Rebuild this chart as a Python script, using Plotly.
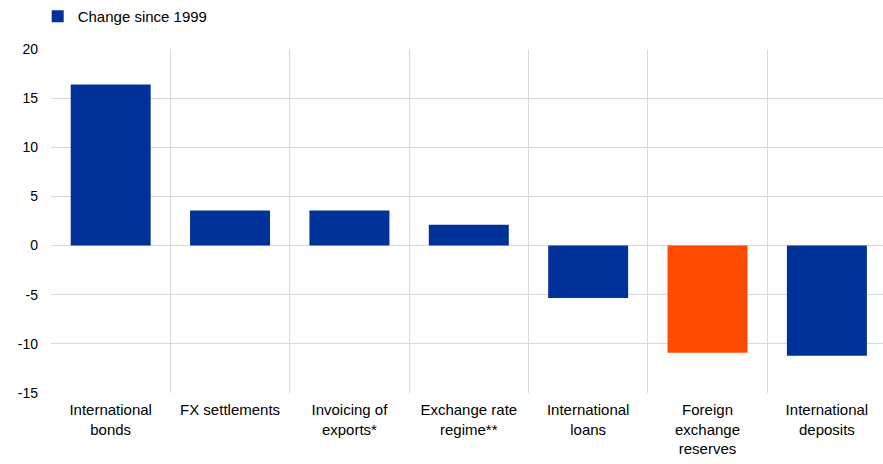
import plotly.graph_objects as go

categories = ["International<br>bonds", "FX settlements", "Invoicing of<br>exports*",
              "Exchange rate<br>regime**", "International<br>loans",
              "Foreign<br>exchange<br>reserves", "International<br>deposits"]
values = [16.4, 3.57, 3.57, 2.12, -5.33, -10.9, -11.2]
bar_colors = ["#003299", "#003299", "#003299", "#003299", "#003299", "#FF4B00", "#003299"]
series_name = "Change since 1999"
y_ticks = [-15, -10, -5, 0, 5, 10, 15, 20]
y_tick_labels = ["-15", "-10", "-5", "0", "5", "10", "15", "20"]

fig = go.Figure()
fig.add_trace(go.Bar(
    x=categories, y=values, name=series_name,
    marker=dict(color=bar_colors, line=dict(width=0)),
    showlegend=True,
))

font_family = "Arial, Liberation Sans, sans-serif"
fig.update_layout(
    width=883, height=464,
    margin=dict(l=51, r=0, t=48, b=71),
    paper_bgcolor="white", plot_bgcolor="white",
    bargap=0.33,
    font=dict(family=font_family, size=15, color="#000000"),
    showlegend=True,
    legend=dict(x=-0.016, y=1.144, xanchor="left", yanchor="top",
                orientation="h", font=dict(size=15),
                bgcolor="rgba(0,0,0,0)", borderwidth=0),
    xaxis=dict(
        type="category", tickson="boundaries", showgrid=True,
        gridcolor="#d9d9d9", gridwidth=1, ticks="", showline=False,
        range=[-0.5, 6.47], tickfont=dict(size=15), ticklabelstandoff=6,
        zeroline=False,
    ),
    yaxis=dict(
        range=[-15, 20], tickvals=y_ticks, ticktext=y_tick_labels, showgrid=True,
        gridcolor="#d9d9d9", gridwidth=1, zeroline=True,
        zerolinecolor="#d9d9d9", zerolinewidth=1, ticks="",
        tickfont=dict(size=14), ticklabelstandoff=12, showline=False,
    ),
)

fig.write_html("out.html")
